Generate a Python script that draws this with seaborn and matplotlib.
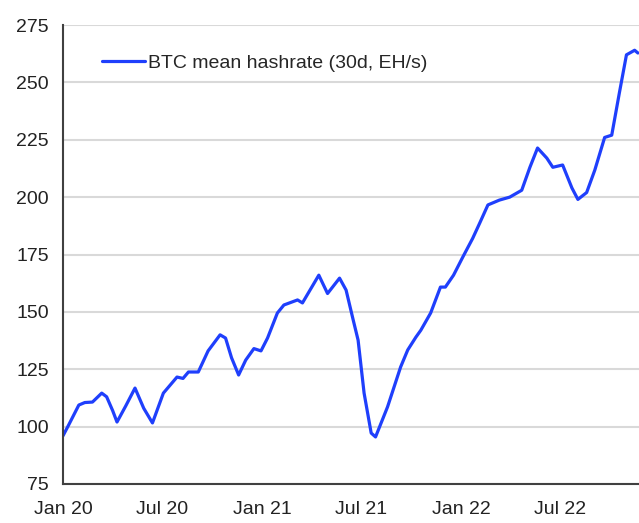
import pandas as pd
import matplotlib.pyplot as plt
import matplotlib.dates as mdates
import seaborn as sns

dates = ["2020-01-01", "2020-01-12", "2020-01-30", "2020-02-10", "2020-02-24", "2020-03-12",
         "2020-03-21", "2020-04-01", "2020-04-09", "2020-04-25", "2020-05-12", "2020-05-28",
         "2020-06-13", "2020-07-03", "2020-07-28", "2020-08-08", "2020-08-18", "2020-09-05",
         "2020-09-23", "2020-10-15", "2020-10-25", "2020-11-05", "2020-11-18", "2020-12-01",
         "2020-12-16", "2020-12-29", "2021-01-10", "2021-01-28", "2021-02-09", "2021-03-06",
         "2021-03-15", "2021-04-14", "2021-04-20", "2021-04-30", "2021-05-22", "2021-06-03",
         "2021-06-16", "2021-06-25", "2021-07-06", "2021-07-19", "2021-07-27", "2021-08-18",
         "2021-09-11", "2021-09-24", "2021-10-09", "2021-10-18", "2021-11-05", "2021-11-23",
         "2021-12-02", "2021-12-17", "2022-01-03", "2022-01-21", "2022-02-03", "2022-02-18",
         "2022-03-11", "2022-03-30", "2022-04-21", "2022-05-06", "2022-05-20", "2022-06-06",
         "2022-06-17", "2022-07-05", "2022-07-22", "2022-08-02", "2022-08-18", "2022-09-02",
         "2022-09-20", "2022-10-03", "2022-10-17", "2022-10-30", "2022-11-14", "2022-11-20"]
hashrate = [96, 101, 109.4, 110.5, 110.7, 114.6,
            113, 107, 102, 109, 116.8, 108,
            101.6, 114.6, 121.6, 121, 123.8, 123.8,
            133, 140, 138.6, 130, 122.5, 129,
            134, 133, 138.6, 149.5, 153, 155.2,
            153.9, 166, 163, 158, 164.7, 159.5,
            146.5, 137.7, 114.6, 97.2, 95.5, 108.6,
            126, 133.4, 139, 142, 149.5, 160.8,
            160.8, 166, 173.9, 182, 188.7, 196.6,
            198.7, 200, 203, 213, 221.4, 217,
            213, 214, 204, 199, 202, 211.8,
            226, 227, 245.4, 262, 264, 262.8]

df = pd.DataFrame({"date": pd.to_datetime(dates), "hashrate": hashrate})

sns.set_theme(style="white")
plt.rcParams['font.family'] = ['Liberation Sans Narrow', 'Liberation Sans', 'DejaVu Sans']

fig = plt.figure(figsize=(6.39, 5.23), dpi=100)
ax = fig.add_axes([63 / 639, 39 / 523, 1 - 63 / 639, 459 / 523])

sns.lineplot(data=df, x="date", y="hashrate", ax=ax, color="#1f3ffc", lw=2.3,
             label="BTC mean hashrate (30d, EH/s)")

ax.set_ylim(75, 275)
ax.set_yticks(range(75, 276, 25))
ax.set_xlim(pd.Timestamp("2020-01-01"), pd.Timestamp("2022-11-22"))
ticks = pd.to_datetime(["2020-01-01", "2020-07-01", "2021-01-01", "2021-07-01", "2022-01-01", "2022-07-01"])
ax.set_xticks(ticks)
ax.xaxis.set_major_formatter(mdates.DateFormatter("%b %y"))
ax.set_xlabel("")
ax.set_ylabel("")

ax.yaxis.grid(True, color="#d9d9d9", lw=1.5)
ax.set_axisbelow(True)
for s in ["top", "right"]:
    ax.spines[s].set_visible(False)
for s in ["left", "bottom"]:
    ax.spines[s].set_color("#404040")
    ax.spines[s].set_linewidth(1.5)

ax.tick_params(axis="x", direction="out", length=6, width=1.2, color="#404040", labelsize=14, pad=6)
ax.tick_params(axis="y", length=0, labelsize=14, pad=10)
for lbl in ax.get_xticklabels() + ax.get_yticklabels():
    lbl.set_color("#222222")

leg = ax.legend(loc="upper left", frameon=False, fontsize=14, handlelength=2.2,
                handletextpad=0.2, bbox_to_anchor=(0.037, 0.975))

fig.savefig("out.png", dpi=100)
